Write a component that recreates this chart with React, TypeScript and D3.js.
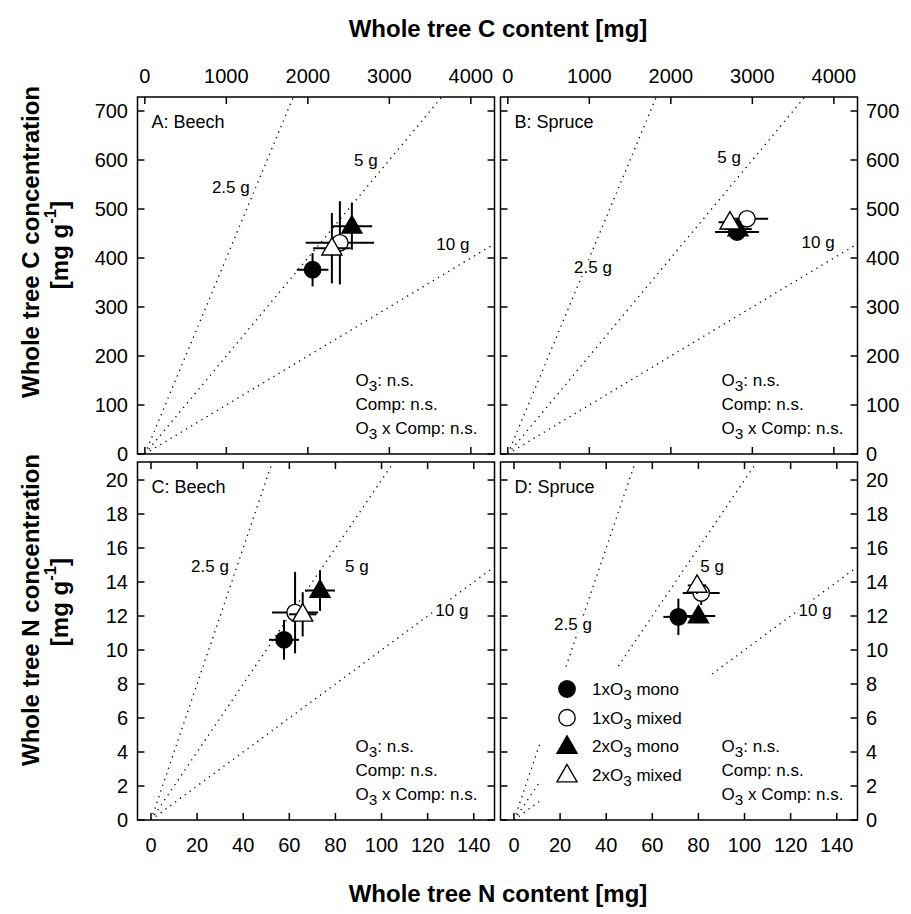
import React from "react";
import * as d3 from "d3";

// Treatments, in drawing order
const treatments = ["1xO3 mono", "1xO3 mixed", "2xO3 mono", "2xO3 mixed"];
const markerKinds = ["circle", "circle", "triangle", "triangle"];
const markerFilled = [true, false, true, false];

// Beech: whole tree C content [mg] vs C concentration [mg g-1]
const beechCContent = [2058, 2393, 2540, 2295];
const beechCContentErr = [194, 420, 250, 230];
const beechCConc = [376, 431, 465, 420];
const beechCConcErr = [34, 85, 48, 72];

// Spruce: whole tree C content [mg] vs C concentration [mg g-1]
const spruceCContent = [2812, 2934, 2824, 2725];
const spruceCContentErr = [270, 260, 170, 140];
const spruceCConc = [453, 480, 459, 473];
const spruceCConcErr = [16, 8, 10, 8];

// Beech: whole tree N content [mg] vs N concentration [mg g-1]
const beechNContent = [57.7, 62.5, 73.3, 65.8];
const beechNContentErr = [6.5, 10, 6.5, 6];
const beechNConc = [10.6, 12.2, 13.5, 12.1];
const beechNConcErr = [1.17, 2.4, 1.2, 1.3];

// Spruce: whole tree N content [mg] vs N concentration [mg g-1]
const spruceNContent = [71.3, 81.2, 80, 79.4];
const spruceNContentErr = [6.5, 8, 7.3, 4];
const spruceNConc = [11.95, 13.35, 12.0, 13.8];
const spruceNConcErr = [1.07, 0.7, 0.3, 0.5];

// Biomass isolines [g] and where their labels sit (content, concentration)
const biomassLines = [2.5, 5, 10];
const biomassLabels = ["2.5 g", "5 g", "10 g"];
const isoLabelsBeechC = [[1055, 543], [2712, 600], [3779, 427]];
const isoLabelsSpruceC = [[1045, 380], [2714, 606], [3806, 431]];
const isoLabelsBeechN = [[25.6, 14.9], [89.3, 14.9], [130.5, 12.35]];
const isoLabelsSpruceN = [[25.6, 11.5], [85.9, 14.9], [130.6, 12.35]];

// Axis ticks
const cContentTicks = [0, 1000, 2000, 3000, 4000];
const cConcTicks = [0, 100, 200, 300, 400, 500, 600, 700];
const nContentTicks = [0, 20, 40, 60, 80, 100, 120, 140];
const nConcTicks = [0, 2, 4, 6, 8, 10, 12, 14, 16, 18, 20];

const FONT = "'Liberation Sans', Arial, Helvetica, sans-serif";
const COL_X = [137.5, 500.5];
const PANEL_W = 357;
const ROW_TOP = [97, 462];
const ROW_BOTTOM = [454, 820];
const TICK = 7;
const TITLE_SIZE = 24;

type Panel = {
  id: string;
  title: string;
  col: number;
  row: number;
  x: number[];
  xErr: number[];
  y: number[];
  yErr: number[];
  iso: number[][];
};

const panels: Panel[] = [
  { id: "A", title: "A: Beech", col: 0, row: 0, x: beechCContent, xErr: beechCContentErr, y: beechCConc, yErr: beechCConcErr, iso: isoLabelsBeechC },
  { id: "B", title: "B: Spruce", col: 1, row: 0, x: spruceCContent, xErr: spruceCContentErr, y: spruceCConc, yErr: spruceCConcErr, iso: isoLabelsSpruceC },
  { id: "C", title: "C: Beech", col: 0, row: 1, x: beechNContent, xErr: beechNContentErr, y: beechNConc, yErr: beechNConcErr, iso: isoLabelsBeechN },
  { id: "D", title: "D: Spruce", col: 1, row: 1, x: spruceNContent, xErr: spruceNContentErr, y: spruceNConc, yErr: spruceNConcErr, iso: isoLabelsSpruceN },
];

function scalesFor(p: Panel) {
  const left = COL_X[p.col];
  const x = d3
    .scaleLinear()
    .domain(p.row === 0 ? [-90, 4290] : [-5.85, 149])
    .range([left, left + PANEL_W]);
  const y = d3
    .scaleLinear()
    .domain(p.row === 0 ? [0, 728.6] : [0, 21.06])
    .range([ROW_BOTTOM[p.row], ROW_TOP[p.row]]);
  return { x, y };
}

const triPath = d3.symbol(d3.symbolTriangle, 175)() as string;

function Marker({ cx, cy, kind, filled }: { cx: number; cy: number; kind: string; filled: boolean }) {
  const fill = filled ? "#000" : "#fff";
  if (kind === "circle") {
    return <circle cx={cx} cy={cy} r={8.2} fill={fill} stroke="#000" strokeWidth={1.4} />;
  }
  return <path d={triPath} transform={`translate(${cx},${cy + 1})`} fill={fill} stroke="#000" strokeWidth={1.4} />;
}

function O3({ rest }: { rest: string }) {
  return (
    <>
      <tspan>O</tspan>
      <tspan dy={5} fontSize="0.9em">3</tspan>
      <tspan dy={-5}>{rest}</tspan>
    </>
  );
}

function Stats({ x, y }: { x: number; y: number }) {
  return (
    <g fontSize={17} fontFamily={FONT}>
      <text x={x} y={y} dominantBaseline="central"><O3 rest=": n.s." /></text>
      <text x={x} y={y + 24} dominantBaseline="central">Comp: n.s.</text>
      <text x={x} y={y + 48} dominantBaseline="central"><O3 rest=" x Comp: n.s." /></text>
    </g>
  );
}

function PanelView({ p }: { p: Panel }) {
  const { x, y } = scalesFor(p);
  const [x0, x1] = x.range();
  const [yb, yt] = y.range();
  const clipId = `clip-${p.id}`;
  const xTicks = p.row === 0 ? cContentTicks : nContentTicks;
  const yTicks = p.row === 0 ? cConcTicks : nConcTicks;
  const xMax = x.domain()[1];
  const isoLine = d3
    .line<[number, number]>()
    .x((d) => x(d[0]))
    .y((d) => y(d[1]));

  return (
    <g>
      <defs>
        <clipPath id={clipId}>
          <rect x={x0} y={yt} width={x1 - x0} height={yb - yt} />
        </clipPath>
      </defs>

      {/* biomass isolines through the origin */}
      <g clipPath={`url(#${clipId})`}>
        {biomassLines.map((m) => (
          <path
            key={m}
            d={isoLine([[0, 0], [xMax * 1.2, (xMax * 1.2) / m]]) as string}
            fill="none"
            stroke="#000"
            strokeWidth={1.3}
            strokeDasharray="1.3 4.7"
          />
        ))}
      </g>

      {/* legend box with white background (panel D) */}
      {p.id === "D" && (
        <g fontFamily={FONT} fontSize={17}>
          <rect x={540} y={668} width={170} height={146} fill="#fff" />
          {treatments.map((t, i) => {
            const ry = 689 + i * 28.7;
            return (
              <g key={t}>
                <Marker cx={567} cy={ry} kind={markerKinds[i]} filled={markerFilled[i]} />
                <text x={592} y={ry} dominantBaseline="central">
                  <tspan>{t.slice(0, 3)}</tspan>
                  <tspan dy={5} fontSize="0.9em">{t[3]}</tspan>
                  <tspan dy={-5}>{" " + t.slice(5)}</tspan>
                </text>
              </g>
            );
          })}
        </g>
      )}

      {/* isoline labels on a white backing */}
      {p.iso.map((pos, i) => {
        const w = biomassLabels[i].length * 7.6;
        return (
          <g key={i}>
            <rect x={x(pos[0]) - w / 2 - 1} y={y(pos[1]) - 8} width={w + 2} height={16} fill="#fff" />
            <text
              x={x(pos[0])}
              y={y(pos[1])}
              textAnchor="middle"
              dominantBaseline="central"
              fontFamily={FONT}
              fontSize={17}
            >
              {biomassLabels[i]}
            </text>
          </g>
        );
      })}

      {/* data: error bars, then symbol, per treatment */}
      {treatments.map((t, i) => {
        const cx = x(p.x[i]);
        const cy = y(p.y[i]);
        return (
          <g key={t}>
            <line x1={x(p.x[i] - p.xErr[i])} x2={x(p.x[i] + p.xErr[i])} y1={cy} y2={cy} stroke="#000" strokeWidth={2} />
            <line x1={cx} x2={cx} y1={y(p.y[i] - p.yErr[i])} y2={y(p.y[i] + p.yErr[i])} stroke="#000" strokeWidth={2} />
            <Marker cx={cx} cy={cy} kind={markerKinds[i]} filled={markerFilled[i]} />
          </g>
        );
      })}

      {/* frame */}
      <rect x={x0} y={yt} width={x1 - x0} height={yb - yt} fill="none" stroke="#000" strokeWidth={1.5} />

      {/* inward ticks on all four sides */}
      {xTicks.map((v) => (
        <g key={`xt${v}`} stroke="#000" strokeWidth={1.5}>
          <line x1={x(v)} x2={x(v)} y1={yt} y2={yt + TICK} />
          <line x1={x(v)} x2={x(v)} y1={yb} y2={yb - TICK} />
        </g>
      ))}
      {yTicks.map((v) => (
        <g key={`yt${v}`} stroke="#000" strokeWidth={1.5}>
          <line x1={x0} x2={x0 + TICK} y1={y(v)} y2={y(v)} />
          <line x1={x1} x2={x1 - TICK} y1={y(v)} y2={y(v)} />
        </g>
      ))}

      {/* tick labels on the outer sides */}
      <g fontFamily={FONT} fontSize={20}>
        {p.row === 0 &&
          xTicks.map((v) => (
            <text key={`xl${v}`} x={x(v)} y={76} textAnchor="middle" dominantBaseline="central">
              {v}
            </text>
          ))}
        {p.row === 1 &&
          xTicks.map((v) => (
            <text key={`xl${v}`} x={x(v)} y={845} textAnchor="middle" dominantBaseline="central">
              {v}
            </text>
          ))}
        {p.col === 0 &&
          yTicks.map((v) => (
            <text key={`yl${v}`} x={128} y={y(v)} textAnchor="end" dominantBaseline="central">
              {v}
            </text>
          ))}
        {p.col === 1 &&
          yTicks.map((v) => (
            <text key={`yl${v}`} x={866} y={y(v)} textAnchor="start" dominantBaseline="central">
              {v}
            </text>
          ))}
      </g>

      {/* panel title */}
      <text x={x0 + 14} y={yt + 25} fontFamily={FONT} fontSize={18} dominantBaseline="central">
        {p.title}
      </text>

      <Stats x={p.col === 0 ? x0 + 218 : x0 + 221} y={yb - 74} />
    </g>
  );
}

function Units({ x, y }: { x: number; y: number }) {
  return (
    <text
      transform={`translate(${x},${y}) rotate(-90)`}
      textAnchor="middle"
      dominantBaseline="central"
      fontFamily={FONT}
      fontWeight="bold"
      fontSize={TITLE_SIZE}
    >
      <tspan>[mg g</tspan>
      <tspan dy={-9} fontSize="0.7em">-1</tspan>
      <tspan dy={9}>]</tspan>
    </text>
  );
}

export default function App() {
  return (
    <svg
      width={911}
      height={914}
      viewBox="0 0 911 914"
      style={{ position: "absolute", left: 0, top: 0, background: "#fff", display: "block" }}
    >
      <rect width={911} height={914} fill="#fff" />
      <text x={498} y={28} textAnchor="middle" dominantBaseline="central" fontFamily={FONT} fontWeight="bold" fontSize={TITLE_SIZE}>
        Whole tree C content [mg]
      </text>
      <text x={498} y={893} textAnchor="middle" dominantBaseline="central" fontFamily={FONT} fontWeight="bold" fontSize={TITLE_SIZE}>
        Whole tree N content [mg]
      </text>
      <text
        transform="translate(30,242) rotate(-90)"
        textAnchor="middle"
        dominantBaseline="central"
        fontFamily={FONT}
        fontWeight="bold"
        fontSize={TITLE_SIZE}
      >
        Whole tree C concentration
      </text>
      <Units x={59} y={245} />
      <text
        transform="translate(30,610) rotate(-90)"
        textAnchor="middle"
        dominantBaseline="central"
        fontFamily={FONT}
        fontWeight="bold"
        fontSize={TITLE_SIZE}
      >
        Whole tree N concentration
      </text>
      <Units x={59} y={602} />
      {panels.map((p) => (
        <PanelView key={p.id} p={p} />
      ))}
    </svg>
  );
}
